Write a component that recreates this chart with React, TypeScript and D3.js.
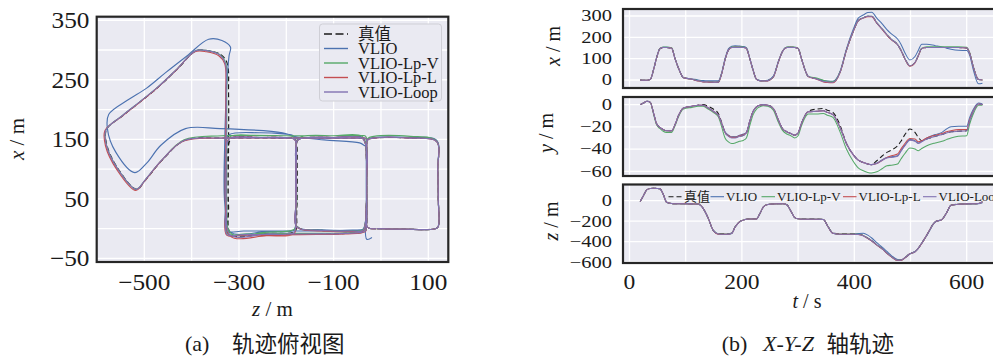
import React from 'react';
import * as d3 from 'd3';

// ---------------- data ----------------
const T = [19, 25, 31, 37, 43, 48, 54, 60, 66, 75,
  81, 88, 96, 111, 122, 131, 140, 149, 158, 164,
  170, 176, 182, 188, 196, 203, 208, 214, 220, 226,
  232, 238, 246, 256, 265, 272, 280, 287, 294, 300,
  306, 312, 318, 333, 345, 352, 362, 375, 386, 398,
  407, 416, 424, 431, 440, 450, 458, 466, 477, 483,
  490, 499, 508, 514, 520, 529, 544, 556, 564, 572,
  585, 600, 605, 612, 621, 628];

const X_GT = [0, -1, -1, 2, 50, 101, 146, 152, 152, 149,
  100, 50, 11, 4, -4, -8, -9, -10, -10, 30,
  95, 140, 152, 153, 153, 152, 148, 100, 45, 3,
  -3, -4, -3, 15, 86, 132, 152, 153, 152, 148,
  100, 50, 17, 6, -5, -8, -10, 39, 140, 227,
  278, 292, 299, 299, 268, 238, 212, 190, 166, 140,
  100, 66, 82, 115, 148, 152, 152, 152, 152, 152,
  152, 150, 128, 59, 2, 0];
const X_VLIO = [0, -1, -1, 2, 52, 104, 148, 153, 153, 150,
  101, 50, 11, 5, 0, -3, -4, -4, -4, 34,
  100, 146, 158, 161, 159, 157, 152, 103, 47, 3,
  -2, -3, -1, 18, 88, 134, 153, 153, 152, 148,
  100, 50, 17, 6, -3, -5, -6, 42, 146, 237,
  290, 305, 316, 318, 290, 262, 236, 216, 192, 168,
  128, 94, 110, 140, 168, 168, 161, 155, 149, 144,
  139, 138, 118, 45, -18, -15];
const X_LPV = [0, -1, -1, 2, 50, 101, 147, 155, 155, 151,
  101, 50, 11, 4, -3, -7, -8, -9, -9, 31,
  96, 141, 155, 156, 156, 155, 149, 100, 45, 3,
  -3, -4, -2, 15, 86, 133, 155, 156, 155, 149,
  101, 50, 17, 9, -1, -6, -8, 40, 140, 227,
  278, 292, 299, 299, 268, 238, 212, 190, 166, 140,
  100, 66, 82, 115, 149, 156, 156, 156, 156, 156,
  156, 153, 130, 60, 2, 0];
const X_LPL = [0, -1, -1, 2, 50, 101, 146, 152, 152, 149,
  100, 50, 11, 3, -5, -9, -10, -11, -11, 29,
  95, 140, 152, 153, 153, 152, 148, 100, 45, 3,
  -4, -5, -4, 14, 85, 132, 152, 153, 152, 148,
  100, 50, 16, 4, -9, -12, -13, 37, 139, 226,
  277, 290, 297, 297, 266, 236, 210, 188, 165, 139,
  99, 64, 80, 114, 147, 152, 152, 152, 152, 152,
  152, 150, 128, 59, 2, 0];
const X_LOOP = [0, -1, -1, 2, 50, 101, 146, 152, 152, 149,
  100, 50, 11, 4, -4, -8, -9, -10, -10, 30,
  95, 140, 152, 153, 153, 152, 148, 100, 45, 3,
  -3, -4, -3, 15, 86, 132, 152, 153, 152, 148,
  100, 50, 17, 5, -7, -9, -11, 38, 140, 227,
  278, 292, 299, 299, 268, 238, 212, 190, 166, 140,
  100, 66, 82, 115, 148, 152, 152, 152, 152, 152,
  152, 150, 128, 59, 2, 0];

const Z_GT = [-8, 50, 108, 120, 121, 120, 118, 62, -15, -28,
  -30, -30, -30, -31, -33, -75, -170, -290, -322, -323,
  -323, -322, -315, -254, -205, -187, -180, -177, -177, -176,
  -125, -62, -38, -32, -30, -30, -40, -100, -165, -176,
  -178, -178, -178, -178, -182, -240, -316, -322, -322, -322,
  -325, -338, -366, -390, -430, -470, -510, -545, -580, -579,
  -555, -516, -497, -462, -415, -335, -205, -182, -120, -45,
  -34, -31, -30, -30, -28, -10];
const Z_VLIO = [-8, 50, 108, 120, 121, 120, 118, 62, -15, -28,
  -30, -30, -30, -31, -33, -75, -170, -290, -326, -329,
  -330, -328, -320, -256, -206, -188, -181, -179, -179, -178,
  -126, -62, -38, -32, -30, -30, -40, -100, -165, -177,
  -180, -180, -180, -180, -184, -242, -318, -330, -330, -326,
  -321, -318, -336, -364, -410, -455, -495, -535, -575, -578,
  -560, -520, -495, -465, -413, -340, -208, -184, -120, -45,
  -34, -31, -31, -31, -30, -19];
const Z_LPV = [-8, 50, 108, 120, 121, 120, 118, 62, -15, -28,
  -30, -30, -30, -31, -33, -75, -170, -290, -324, -326,
  -326, -325, -317, -255, -206, -188, -181, -179, -178, -177,
  -126, -62, -38, -32, -30, -30, -40, -100, -165, -177,
  -180, -180, -180, -180, -183, -241, -317, -326, -326, -326,
  -328, -340, -367, -391, -431, -471, -511, -546, -581, -580,
  -556, -517, -498, -463, -416, -336, -206, -183, -120, -45,
  -34, -31, -30, -30, -28, -10];
const Z_LPL = [-8, 50, 108, 120, 121, 120, 118, 62, -15, -28,
  -30, -30, -30, -31, -33, -75, -170, -290, -326, -328,
  -328, -327, -319, -256, -206, -188, -181, -179, -179, -178,
  -126, -62, -38, -32, -30, -30, -40, -100, -165, -177,
  -180, -180, -180, -180, -184, -242, -318, -328, -328, -328,
  -330, -342, -369, -393, -433, -473, -513, -548, -583, -582,
  -558, -518, -499, -464, -417, -336, -206, -183, -120, -45,
  -34, -31, -30, -30, -28, -10];
const Z_LOOP = [-8, 50, 108, 120, 121, 120, 118, 62, -15, -28,
  -30, -30, -30, -31, -33, -75, -170, -290, -325, -327,
  -327, -326, -318, -256, -206, -188, -181, -179, -179, -178,
  -126, -62, -38, -32, -30, -30, -40, -100, -165, -177,
  -180, -180, -180, -180, -184, -242, -318, -327, -327, -327,
  -329, -341, -368, -391, -431, -471, -511, -546, -581, -580,
  -556, -517, -498, -463, -416, -336, -206, -183, -120, -45,
  -34, -31, -30, -30, -28, -10];

const Y_GT = [0, 1.5, 3, 2, -8, -17, -20.5, -22.5, -23.5, -23.5,
  -18, -9, -3, -1.5, -0.5, 0, -1.5, -4, -8, -16,
  -25, -28, -29, -29.5, -28.5, -27.5, -25.5, -15, -6, -2,
  -0.5, 0, -0.5, -3.5, -14, -21.5, -24.5, -26, -27.5, -25.5,
  -17, -10, -6, -4, -3.5, -5, -7, -19, -35, -45,
  -50, -52, -53.5, -54, -50.5, -46, -43, -41, -37, -33,
  -27, -22, -25, -29.5, -32.5, -31, -28.5, -27, -25.5, -24.5,
  -24, -23.5, -15, -6, 0.5, 0];
const Y_VLIO = [0, 1.5, 3, 2, -8, -17, -20.5, -22.5, -23.5, -23.5,
  -18, -9, -3, -1.5, -0.5, -0.5, -3, -6, -9.5, -17,
  -24.5, -27.5, -29, -29, -27.5, -26.5, -25, -15, -6, -2,
  -0.5, 0, -0.5, -3.5, -14, -21.5, -24.5, -26, -27.5, -25.5,
  -17, -10, -6.5, -6, -5.5, -7, -9, -21, -35, -45,
  -50, -52, -53.5, -54, -52.5, -49.5, -47.5, -47, -46, -41.5,
  -36.5, -31.5, -32.5, -34.5, -33, -30, -27, -25, -22, -20,
  -19.5, -19.5, -12, -4, 1.5, 0.5];
const Y_LPV = [0, 1.5, 3, 2, -9, -18, -21.5, -24, -25, -25,
  -19, -10, -4, -2.5, -1.5, -1.5, -4, -7, -11, -20,
  -30, -33.5, -35, -34.5, -33, -32, -30, -19, -9, -4,
  -2, -1, -1.5, -5, -16, -23, -26.5, -28, -30, -28,
  -19, -12, -8.5, -8.5, -8, -9.5, -11.5, -25, -40, -51,
  -57, -59.5, -61, -61.5, -60.5, -57.5, -55, -54.5, -53.5, -49,
  -44, -39, -40, -41.5, -39.5, -37, -34.5, -33, -31.5, -30,
  -28.5, -28, -18, -8, -0.5, -0.5];
const Y_LPL = [0, 1.5, 3, 2, -8, -17, -20.5, -22.5, -23.5, -23.5,
  -18, -9, -3, -1.5, -0.5, -0.5, -3, -6, -9.5, -17,
  -25, -28, -29.5, -29.5, -28, -27, -25.5, -15, -6, -2,
  -0.5, 0, -0.5, -3.5, -14, -21.5, -24.5, -26, -27.5, -25.5,
  -17, -10, -6.5, -6, -5.5, -7, -9, -21, -35, -45,
  -50, -52, -53.5, -54, -53, -50, -47.5, -46, -44.5, -40,
  -35, -30.5, -31, -33.5, -32.5, -30, -27.5, -26, -24.5, -23.5,
  -22.5, -22.5, -14, -5.5, 0.5, 0];
const Y_LOOP = [0, 1.5, 3, 2, -8, -17, -20.5, -22.5, -23.5, -23.5,
  -18, -9, -3, -1.5, -0.5, -0.5, -3, -6, -9.5, -17,
  -25, -28.5, -30, -30, -28.5, -27.5, -25.5, -15, -6, -2,
  -0.5, 0, -0.5, -3.5, -14, -21.5, -24.5, -26, -27.5, -25.5,
  -17, -10, -6.5, -6, -5.5, -7, -9, -21, -35, -45,
  -50, -52, -53.5, -54, -53, -50, -48, -47.5, -46.5, -42,
  -37, -32, -33, -35, -33.5, -31, -28.5, -27, -25.5, -24.5,
  -24, -23.5, -15, -6, 0.5, 0];

const LEGEND = ['真值', 'VLIO', 'VLIO-Lp-V', 'VLIO-Lp-L', 'VLIO-Loop'];

const LEFT_Z_TICKS = [-500, -300, -100, 100];
const LEFT_X_TICKS = [350, 250, 150, 50, -50];
const T_TICKS = [0, 200, 400, 600];
const RX_TICKS = [300, 200, 100, 0];
const RY_TICKS = [0, -20, -40, -60];
const RZ_TICKS = [0, -200, -400, -600];

// ---------------- styling ----------------
const SERIF = "'Liberation Serif', 'DejaVu Serif', serif";
const MIXED = "'Liberation Serif', 'Noto Sans CJK SC', serif";
const BG = '#eaeaf2';
const FRAME = '#262626';
const COLORS = ['#1a1a1a', '#4c72b0', '#55a868', '#c44e52', '#8172b2'];

type S = { name: string; color: string; dash?: string; x: number[]; y: number[]; z: number[] };

const fmt = (v: number) => (v < 0 ? '\u2212' + Math.abs(v) : String(v));

function Txt(props: { x: number; y: number; sx?: number; size: number; anchor?: string; children: any; family?: string }) {
  const { x, y, sx = 1, size, anchor = 'start', children, family = SERIF } = props;
  return (
    <text transform={`translate(${x},${y}) scale(${sx},1)`} fontSize={size} textAnchor={anchor}
      fontFamily={family} fill="#1a1a1a">{children}</text>
  );
}

export default function App() {
  const series: S[] = [
    { name: LEGEND[0], color: COLORS[0], dash: '5,3', x: X_GT, y: Y_GT, z: Z_GT },
    { name: LEGEND[1], color: COLORS[1], x: X_VLIO, y: Y_VLIO, z: Z_VLIO },
    { name: LEGEND[2], color: COLORS[2], x: X_LPV, y: Y_LPV, z: Z_LPV },
    { name: LEGEND[3], color: COLORS[3], x: X_LPL, y: Y_LPL, z: Z_LPL },
    { name: LEGEND[4], color: COLORS[4], x: X_LOOP, y: Y_LOOP, z: Z_LOOP },
  ];

  // ---------- left: top view ----------
  const LF = { l: 96.7, r: 448.3, t: 16.7, b: 262 };
  const zS = d3.scaleLinear().domain([-500, 100]).range([144.3, 428.3]);
  const xS = d3.scaleLinear().domain([0, 300]).range([228.6, 50]);
  const topPath = (s: S) => {
    const n = Math.min(T.length, s.x.length, s.z.length);
    return d3.line<number>().x(i => zS(s.z[i])).y(i => xS(s.x[i]))
      .curve(d3.curveCatmullRom.alpha(0.5))(d3.range(n)) || '';
  };
  const zGrid = d3.range(-500, 101, 100);
  const xGrid = d3.range(-50, 351, 50);

  // ---------- right: time series ----------
  const RL = 623, RR = 1000;
  const tS = d3.scaleLinear().domain([0, 600]).range([629.5, 966.7]);
  const tGrid = d3.range(0, 601, 100);
  const subs = [
    { key: 'x', top: 9, bot: 88, sc: d3.scaleLinear().domain([0, 300]).range([80, 16]), ticks: RX_TICKS, lx: 560, ly: 46 },
    { key: 'y', top: 97, bot: 176, sc: d3.scaleLinear().domain([0, -60]).range([104.6, 171.3]), ticks: RY_TICKS, lx: 553, ly: 133 },
    { key: 'z', top: 184.5, bot: 263, sc: d3.scaleLinear().domain([0, -600]).range([200.7, 262.2]), ticks: RZ_TICKS, lx: 558, ly: 221 },
  ];
  const tsPath = (vals: number[], sc: d3.ScaleLinear<number, number>) => {
    const n = Math.min(T.length, vals.length);
    return d3.line<number>().x(i => tS(T[i])).y(i => sc(vals[i]))
      .curve(d3.curveMonotoneX)(d3.range(n)) || '';
  };

  // right legend text starts
  const RLEG_X = [684, 726, 777, 858.5, 938.5];
  const RLEG_Y = 196.7;

  return (
    <svg width={993} height={361} style={{ position: 'absolute', left: 0, top: 0, background: '#fff' }}>
      <defs>
        <clipPath id="clipL"><rect x={LF.l} y={LF.t} width={LF.r - LF.l} height={LF.b - LF.t} /></clipPath>
        {subs.map(s => (
          <clipPath id={`clip-${s.key}`} key={s.key}><rect x={RL} y={s.top} width={RR - RL} height={s.bot - s.top} /></clipPath>
        ))}
      </defs>

      {/* ===== left panel ===== */}
      <rect x={LF.l} y={LF.t} width={LF.r - LF.l} height={LF.b - LF.t} fill={BG} />
      <g clipPath="url(#clipL)">
        {zGrid.map(v => <line key={'zg' + v} x1={zS(v)} x2={zS(v)} y1={LF.t} y2={LF.b} stroke="#fff" strokeWidth={1.3} />)}
        {xGrid.map(v => <line key={'xg' + v} x1={LF.l} x2={LF.r} y1={xS(v)} y2={xS(v)} stroke="#fff" strokeWidth={1.3} />)}
        {series.map(s => (
          <path key={'tv' + s.name} d={topPath(s)} fill="none" stroke={s.color} strokeWidth={1.15}
            strokeDasharray={s.dash} strokeLinejoin="round" />
        ))}
      </g>
      <rect x={LF.l} y={LF.t} width={LF.r - LF.l} height={LF.b - LF.t} fill="none" stroke={FRAME} strokeWidth={2.2} />
      {LEFT_X_TICKS.map(v => (
        <Txt key={'lyt' + v} x={89.5} y={xS(v) + 7.8} size={23} sx={1.1} anchor="end">{fmt(v)}</Txt>
      ))}
      {LEFT_Z_TICKS.map(v => (
        <Txt key={'lxt' + v} x={zS(v)} y={290.3} size={23} sx={1.1} anchor="middle">{fmt(v)}</Txt>
      ))}
      <text transform="translate(24,139) rotate(-90)" fontSize={21} textAnchor="middle" fontFamily={SERIF} fill="#1a1a1a">
        <tspan fontStyle="italic">x</tspan> / m
      </text>
      <text x={272.5} y={316} fontSize={21} textAnchor="middle" fontFamily={SERIF} fill="#1a1a1a">
        <tspan fontStyle="italic">z</tspan> / m
      </text>
      {/* legend */}
      <rect x={319.5} y={24} width={122} height={77} rx={3} fill={BG} stroke="#cfcfd6" strokeWidth={1} />
      {series.map((s, i) => {
        const yy = 34 + i * 14.5;
        return (
          <g key={'lg' + s.name}>
            <line x1={324} x2={348} y1={yy} y2={yy} stroke={s.color} strokeWidth={1.4} strokeDasharray={s.dash ? '8,3.5' : undefined} />
            <text x={358} y={yy + 5.5} fontSize={16.5} fontFamily={MIXED} fill="#1a1a1a">{s.name}</text>
          </g>
        );
      })}
      {/* caption a */}
      <text x={185} y={351} fontSize={22} fontFamily={SERIF} fill="#1a1a1a">(a)</text>
      <text x={232} y={352} fontSize={22.5} fontFamily={MIXED} fill="#1a1a1a">轨迹俯视图</text>

      {/* ===== right panel ===== */}
      {subs.map(sp => (
        <g key={'sp' + sp.key}>
          <rect x={RL} y={sp.top} width={RR - RL} height={sp.bot - sp.top} fill={BG} />
          <g clipPath={`url(#clip-${sp.key})`}>
            {tGrid.map(v => <line key={'tg' + v} x1={tS(v)} x2={tS(v)} y1={sp.top} y2={sp.bot} stroke="#fff" strokeWidth={1.3} />)}
            {sp.ticks.map(v => <line key={'hg' + v} x1={RL} x2={RR} y1={sp.sc(v)} y2={sp.sc(v)} stroke="#fff" strokeWidth={1.3} />)}
            {series.map(s => {
              const vals = sp.key === 'x' ? s.x : sp.key === 'y' ? s.y : s.z;
              return (
                <path key={'ts' + sp.key + s.name} d={tsPath(vals, sp.sc)} fill="none" stroke={s.color}
                  strokeWidth={1.05} strokeDasharray={s.dash} strokeLinejoin="round" />
              );
            })}
          </g>
          <rect x={RL} y={sp.top} width={RR - RL} height={sp.bot - sp.top} fill="none" stroke={FRAME} strokeWidth={2.2} />
          {sp.ticks.map(v => (
            <Txt key={'rt' + sp.key + v} x={612} y={sp.sc(v) + 5.4} size={16} sx={1.28} anchor="end">{fmt(v)}</Txt>
          ))}
          <text transform={`translate(${sp.lx},${sp.ly}) rotate(-90)`} fontSize={20} textAnchor="middle" fontFamily={SERIF} fill="#1a1a1a">
            <tspan fontStyle="italic">{sp.key}</tspan> / m
          </text>
        </g>
      ))}
      {/* right legend inside z subplot */}
      {series.map((s, i) => {
        const x0 = RLEG_X[i];
        return (
          <g key={'rl' + s.name}>
            <line x1={x0 - 15.5} x2={x0 - 2} y1={RLEG_Y} y2={RLEG_Y} stroke={s.color} strokeWidth={1.1}
              strokeDasharray={s.dash ? '5,3' : undefined} />
            <text x={x0} y={RLEG_Y + 4.5} fontSize={13} fontFamily={MIXED} fill="#1a1a1a">{s.name}</text>
          </g>
        );
      })}
      {T_TICKS.map(v => (
        <Txt key={'bt' + v} x={tS(v)} y={288.5} size={22} sx={1.07} anchor="middle">{fmt(v)}</Txt>
      ))}
      <text x={807} y={308} fontSize={20} textAnchor="middle" fontFamily={SERIF} fill="#1a1a1a">
        <tspan fontStyle="italic">t</tspan> / s
      </text>
      {/* caption b */}
      <text x={721.7} y={351} fontSize={22} fontFamily={SERIF} fill="#1a1a1a">(b)</text>
      <text x={763} y={351} fontSize={22} fontFamily={SERIF} fontStyle="italic" fill="#1a1a1a">X-Y-Z</text>
      <text x={826.5} y={352} fontSize={22.5} fontFamily={MIXED} fill="#1a1a1a">轴轨迹</text>
    </svg>
  );
}
